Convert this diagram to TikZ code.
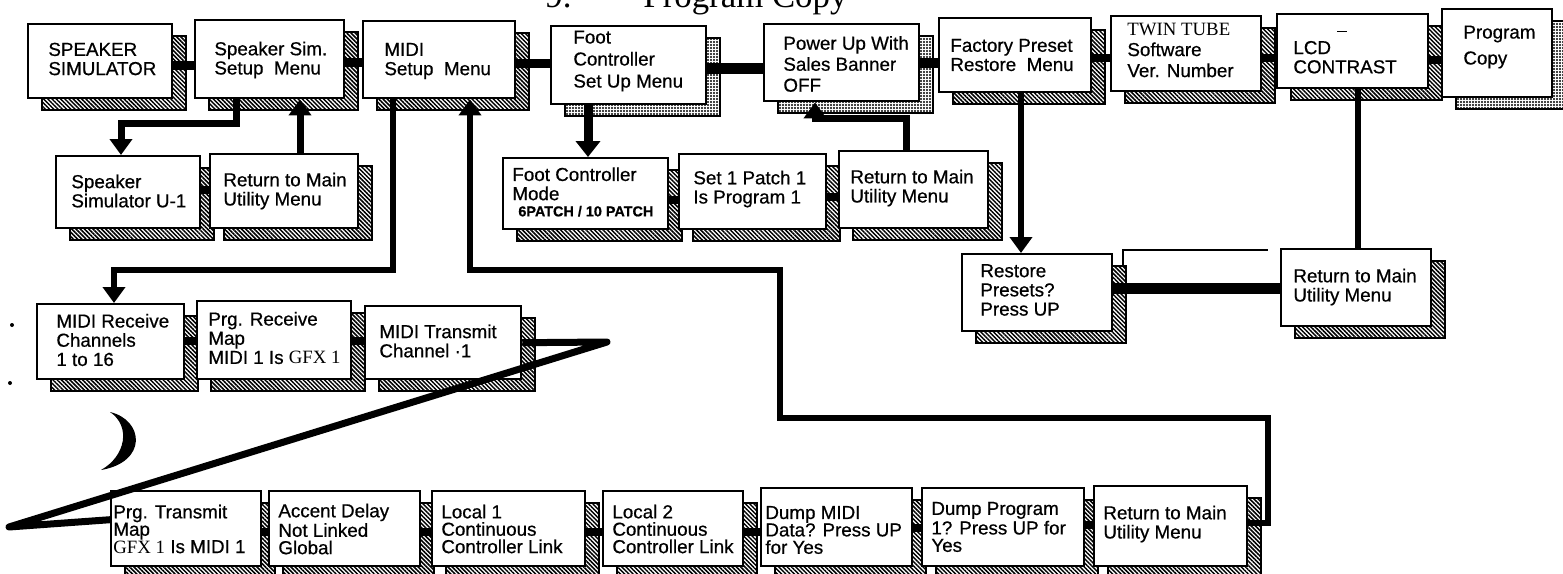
\documentclass[tikz,border=0pt]{standalone}
\usepackage{fontspec}
\setmainfont{Liberation Sans}[FakeBold=0.6]
\newfontfamily\serifx{Liberation Serif}
\usetikzlibrary{arrows.meta,patterns.meta,calc}

\tikzset{
  box/.style={draw=black, line width=1.2pt, fill=white, inner sep=0pt, anchor=north west},
  txt/.style={font=\fontsize{9.4pt}{9.6pt}\selectfont, align=left, inner sep=0pt, anchor=west},
  hatchsh/.style={pattern={Lines[angle=-45,distance=1.5pt,line width=0.75pt]}, pattern color=black, draw=black, line width=0.7pt},
  dotsh/.style={pattern={Dots[distance=1.5pt,radius=0.6pt]}, pattern color=black, draw=black, line width=0.7pt},
  hc/.style={line width=4.5pt},
  rc/.style={line width=4pt},
  vc/.style={line width=3.5pt},
  mc/.style={line width=2.8pt},
  arr/.style={-{Triangle[width=11pt,length=8pt]}},
  tri/.style={line width=3.5pt, line join=round},
}

\newcommand{\menubox}[6]{%
  \path[#6] (#2+15,#3+13) rectangle (#4+15,#5+13);
  \node[box, minimum width={(#4-#2)*0.5pt}, minimum height={(#5-#3)*0.5pt}] (#1) at (#2,#3) {};
}
\newcommand{\menutext}[5][]{%
  \node[txt,#1] (#2) at (#3,#4) {#5};
}

\begin{document}
\begin{tikzpicture}[x=0.5pt,y=-0.5pt]
\useasboundingbox (0,0) rectangle (1563,573);
\fill[white] (0,0) rectangle (1563,573);

% title (cut at the top edge, as in the reference)
\node[anchor=base west, inner sep=0pt, font=\serifx\fontsize{17.4pt}{20pt}\selectfont] (title) at (545,8) {9.\hspace{36pt}Program Copy};

% ---- top row
\menubox{spk}{27}{23}{171}{97}{hatchsh}
\menubox{sss}{194}{19}{343}{97}{hatchsh}
\menubox{midi}{362}{20}{514}{97}{hatchsh}
\menubox{foot}{550}{25}{705}{103}{dotsh}
\menubox{pwr}{763}{23}{918}{100}{dotsh}
\menubox{fac}{938}{17}{1090}{91}{hatchsh}
\menubox{twin}{1110}{15}{1260}{90}{hatchsh}
\menubox{lcd}{1276}{13}{1427}{87}{hatchsh}
\menubox{prog}{1441}{8}{1551}{96}{dotsh}

% ---- second row
\menubox{ssu}{55}{155}{199}{227}{hatchsh}
\menubox{ret1}{209}{153}{357}{227}{hatchsh}
\menubox{fcm}{502}{157}{667}{228}{hatchsh}
\menubox{set1}{678}{153}{825}{228}{hatchsh}
\menubox{ret2}{838}{150}{987}{227}{hatchsh}
\menubox{rp}{961}{253}{1111}{330}{hatchsh}
\menubox{ret4}{1280}{248}{1430}{325}{hatchsh}

% ---- third row
\menubox{mr}{36}{303}{183}{378}{hatchsh}
\menubox{prm}{196}{300}{350}{378}{hatchsh}
\menubox{mt}{364}{305}{520}{378}{hatchsh}

% ---- bottom row
\menubox{pt}{110}{490}{260}{565}{hatchsh}
\menubox{ad}{268}{490}{419}{565}{hatchsh}
\menubox{lone}{431}{490}{584}{565}{hatchsh}
\menubox{ltwo}{602}{490}{742}{565}{hatchsh}
\menubox{dm}{760}{487}{911}{565}{hatchsh}
\menubox{dp}{921}{487}{1083}{565}{hatchsh}
\menubox{ret3}{1093}{485}{1246}{565}{hatchsh}

% ---- texts
\menutext{spk-t}{48}{59}{SPEAKER\\SIMULATOR}
\menutext{sss-t}{214}{60}{Speaker Sim.\\Setup\ \ Menu}
\menutext{midi-t}{384}{61}{MIDI\\Setup\ \ Menu}
\menutext[font=\fontsize{9.4pt}{11pt}\selectfont]{foot-t}{573}{61}{Foot\\Controller\\Set Up Menu}
\menutext[font=\fontsize{9.4pt}{10.5pt}\selectfont]{pwr-t}{783}{64}{Power Up With\\Sales Banner\\OFF}
\menutext{fac-t}{950}{55}{Factory Preset\\Restore\ \ Menu}
\menutext[font=\fontsize{9.4pt}{10.5pt}\selectfont]{twin-t}{1127}{50}{{\serifx TWIN TUBE}\\Software\\Ver. Number}
\menutext{lcd-t}{1293}{52}{LCD\raisebox{11pt}{\hspace{3pt}\rule{5pt}{0.8pt}}\\CONTRAST}
\menutext[font=\fontsize{9.4pt}{13pt}\selectfont]{prog-t}{1463}{47}{Program\\Copy}

\menutext{ssu-t}{71}{191}{Speaker\\Simulator U-1}
\menutext{ret1-t}{223}{191}{Return to Main\\Utility Menu}
\menutext{fcm-t}{512}{192}{Foot Controller\\Mode\\[-1.5pt]\hspace*{3pt}{\bfseries\fontsize{7.2pt}{8pt}\selectfont 6PATCH / 10 PATCH}}
\menutext{set1-t}{693}{189}{Set 1 Patch 1\\Is Program 1}
\menutext{ret2-t}{850}{188}{Return to Main\\Utility Menu}
\menutext{rp-t}{980}{290}{Restore\\Presets?\\Press UP}
\menutext{ret4-t}{1293}{287}{Return to Main\\Utility Menu}

\menutext{mr-t}{56}{340}{MIDI Receive\\Channels\\1 to 16}
\menutext{prm-t}{208}{338}{Prg. Receive\\Map\\MIDI 1 Is {\serifx GFX 1}}
\menutext{mt-t}{379}{341}{MIDI Transmit\\Channel ·1}

\menutext[font=\fontsize{9.4pt}{8.7pt}\selectfont]{pt-t}{113}{529}{Prg. Transmit\\Map\\{\serifx GFX 1} Is MIDI 1}
\menutext[font=\fontsize{9.4pt}{8.7pt}\selectfont]{ad-t}{278}{529}{Accent Delay\\Not Linked\\Global}
\menutext[font=\fontsize{9.4pt}{8.7pt}\selectfont]{lone-t}{441}{529}{Local 1\\Continuous\\Controller Link}
\menutext[font=\fontsize{9.4pt}{8.7pt}\selectfont]{ltwo-t}{612}{529}{Local 2\\Continuous\\Controller Link}
\menutext[font=\fontsize{9.4pt}{8.7pt}\selectfont]{dm-t}{765}{530}{Dump MIDI\\Data? Press UP\\for Yes}
\menutext[font=\fontsize{9.4pt}{8.7pt}\selectfont]{dp-t}{931}{527}{Dump Program\\1? Press UP for\\Yes}
\menutext{ret3-t}{1103}{524}{Return to Main\\Utility Menu}

% ---- short connectors, top row
\draw[hc] (spk.east |- 0,65) -- (sss.west |- 0,65);
\draw[hc] (sss.east |- 0,62) -- (midi.west |- 0,62);
\draw[hc] (midi.east |- 0,63) -- (foot.west |- 0,63);
\draw[line width=5.5pt] (foot.east |- 0,68) -- (pwr.west |- 0,68);
\draw[line width=5pt] (pwr.east |- 0,63) -- (fac.west |- 0,63);
\draw[rc] (fac.east |- 0,58) -- (twin.west |- 0,58);
\draw[rc] (twin.east |- 0,58) -- (lcd.west |- 0,58);
\draw[rc] (lcd.east |- 0,60) -- (prog.west |- 0,60);

% ---- short connectors, lower rows
\draw[rc] (ssu.east |- 0,190) -- (ret1.west |- 0,190);
\draw[rc] (fcm.east |- 0,200) -- (set1.west |- 0,200);
\draw[rc] (set1.east |- 0,197) -- (ret2.west |- 0,197);
\draw[rc] (mr.east |- 0,341) -- (prm.west |- 0,341);
\draw[rc] (prm.east |- 0,341) -- (mt.west |- 0,341);
\draw[rc] (pt.east |- 0,532) -- (ad.west |- 0,532);
\draw[rc] (ad.east |- 0,532) -- (lone.west |- 0,532);
\draw[rc] (lone.east |- 0,532) -- (ltwo.west |- 0,532);
\draw[rc] (ltwo.east |- 0,532) -- (dm.west |- 0,532);
\draw[rc] (dm.east |- 0,528) -- (dp.west |- 0,528);
\draw[rc] (dp.east |- 0,525) -- (ret3.west |- 0,525);
\draw[line width=5.5pt] (rp.east |- 0,288) -- (ret4.west |- 0,288);
\draw[line width=1pt] ($(rp.north east)+(10,13)$) |- ($(ret4.north west)+(-12,2)$);

% ---- menu links
\draw[vc, arr] (sss.south -| 236,0) |- (121,123) -- (ssu.north -| 121,0);
\draw[vc, arr] (ret1.north -| 300,0) -- (sss.south -| 300,0);
\draw[mc, arr] (midi.south -| 393,0) |- (114,270) -- (mr.north -| 114,0);
\draw[mc, arr] (ret3.east |- 0,523) -| (1268,418) -| (780,270) -| (midi.south -| 470,0);
\draw[line width=4.5pt, -{Triangle[width=12pt,length=8pt]}] (foot.south -| 588,0) -- (fcm.north -| 588,0);
\draw[vc, arr] (ret2.north -| 906,0) |- (815,118) -- (pwr.south -| 815,0);
\draw[mc, arr] (fac.south -| 1021,0) -- (rp.north -| 1021,0);
\draw[mc] (ret4.north -| 1358,0) -- (lcd.south -| 1358,0);

% ---- wrap-around from MIDI Transmit to Prg. Transmit Map
\draw[tri] (mt.east) -- (607,342) -- (9,527) -- ($(pt.west)+(0,-9)$);

% ---- marks
\fill (110,412) .. controls (144,420) and (148,462) .. (101,470) .. controls (126,456) and (131,426) .. (110,412) -- cycle;
\fill (12,325) circle[radius=1pt];
\fill (10,383) circle[radius=1pt];
\end{tikzpicture}
\end{document}
